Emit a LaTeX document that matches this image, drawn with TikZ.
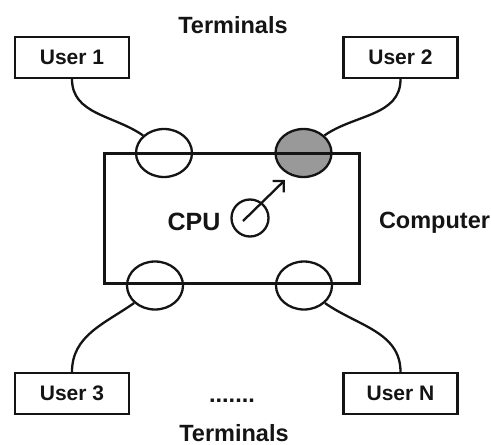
\documentclass[tikz,border=0pt]{standalone}
\usepackage{fontspec}
\setmainfont{Liberation Sans}
\setsansfont{Liberation Sans}
\usetikzlibrary{shapes.geometric}
\usetikzlibrary{arrows.meta}
\definecolor{ink}{RGB}{20,20,20}
\definecolor{busy}{RGB}{153,153,153}

\begin{document}
\begin{tikzpicture}[
    x=1pt, y=-1pt,
    font=\sffamily\bfseries,
    color=ink,
    term/.style={
        draw, line width=2.3pt,
        minimum width=114pt, minimum height=41pt, inner sep=0pt,
        font=\sffamily\bfseries\fontsize{21}{21}\selectfont
    },
    port/.style={
        ellipse, draw, line width=2.3pt,
        minimum width=56pt, minimum height=48pt, inner sep=0pt
    },
    wire/.style={line width=2.3pt},
    lab/.style={font=\sffamily\bfseries\fontsize{23.5}{24}\selectfont, inner sep=0pt}
]
    \useasboundingbox (0,0) rectangle (491,445);

    % terminals
    \node [term] (u1) at ( 72  ,  57.5) {User 1};
    \node [term] (u2) at (400.5,  57.5) {User 2};
    \node [term] (u3) at ( 72  , 393.5) {User 3};
    \node [term] (un) at (400.5, 393.5) {User N};

    % ports on the machine
    \node [port] (p1) at (164  , 153  ) {};
    \node [port, fill=busy] (p2) at (303.5, 153  ) {};
    \node [port] (p3) at (155  , 285.5) {};
    \node [port] (p4) at (304  , 285.5) {};

    % the machine itself
    \node [draw, line width=3.6pt, minimum width=255pt, minimum height=130pt] (comp) at (232, 218.5) {};

    % cpu and its switch
    \node [lab, font=\sffamily\bfseries\fontsize{25}{25}\selectfont] (cpu) at (194, 221.5) {CPU};
    \node [circle, draw, line width=2.3pt, minimum size=37pt, inner sep=0pt] (core) at (250, 218) {};
    \coordinate (spin tail) at (243, 221);
    \coordinate (spin head) at (285, 180);
    \draw [wire, -{Straight Barb[length=8pt,width=16pt]}] (spin tail) -- (spin head);

    % labels
    \node [lab, anchor=base] (ttop) at (233, 33) {Terminals};
    \node [lab, anchor=base] (tbot) at (234, 441) {Terminals};
    \node [lab, anchor=base] (comp lab) at (434.5, 228) {Computer};
    \node [lab, anchor=base] (more) at (232, 402) {.......};

    % wires
    \draw [wire] (u1.south) to [out=-90, in=145] (p1.140);
    \draw [wire] (u2.south) to [out=-90, in=35] (p2.40);
    \draw [wire] (u3.north) to [out=90, in=-145] (p3.220);
    \draw [wire] (un.north) to [out=90, in=-35] (p4.320);

\end{tikzpicture}
\end{document}
